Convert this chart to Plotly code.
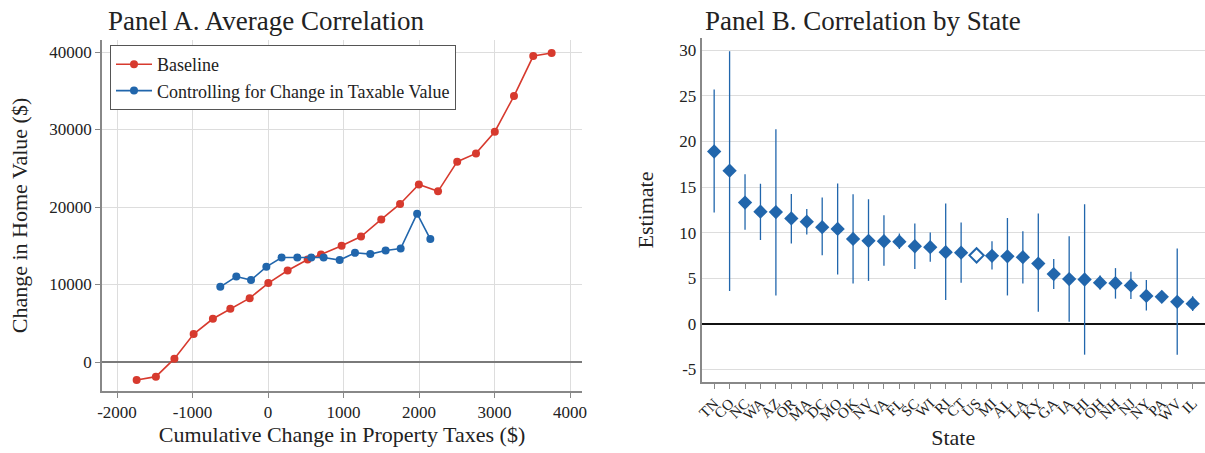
import plotly.graph_objects as go

# Panel A data
base_x = [-1740, -1485, -1240, -985, -730, -499, -243, 4, 260, 525, 702, 975, 1232,
          1500, 1749, 1998, 2252, 2506, 2755, 3004, 3258, 3513, 3757]
base_y = [-2320, -1890, 430, 3600, 5580, 6860, 8240, 10180, 11810, 13230, 13870, 14990, 16190,
          18400, 20390, 22920, 22020, 25850, 26920, 29720, 34320, 39480, 39870]
ctrl_x = [-632, -420, -225, -22, 180, 388, 573, 737, 949, 1152, 1355, 1558, 1757, 1975, 2150]
ctrl_y = [9700, 11030, 10570, 12280, 13480, 13480, 13480, 13480, 13150, 14090, 13920, 14390,
          14650, 19140, 15860]
a_xticks = [-2000, -1000, 0, 1000, 2000, 3000, 4000]
a_yticks = [0, 10000, 20000, 30000, 40000]

# Panel B data
states = ['TN', 'CO', 'NC', 'WA', 'AZ', 'OR', 'MA', 'DC', 'MO', 'OK', 'NV', 'VA', 'FL', 'SC',
          'WI', 'RI', 'CT', 'US', 'MI', 'AL', 'LA', 'KY', 'GA', 'IA', 'HI', 'OH', 'NH', 'NJ',
          'NY', 'PA', 'WV', 'IL']
estimate = [18.9, 16.8, 13.3, 12.3, 12.25, 11.55, 11.2, 10.6, 10.4, 9.3, 9.1, 9.05, 9.0, 8.5,
            8.4, 7.85, 7.8, 7.5, 7.45, 7.4, 7.3, 6.6, 5.45, 4.9, 4.85, 4.5, 4.45, 4.2,
            3.05, 2.95, 2.4, 2.2]
ci_high = [25.7, 29.9, 16.4, 15.35, 21.35, 14.25, 12.6, 13.85, 15.4, 14.2, 13.65, 11.9, 9.9, 11.0,
           10.0, 13.2, 11.1, 7.5, 9.05, 11.6, 10.15, 12.1, 7.1, 9.6, 13.1, 5.3, 6.1, 5.7,
           4.8, 2.95, 8.25, 3.0]
ci_low = [12.2, 3.6, 10.3, 9.2, 3.1, 8.8, 9.8, 7.5, 5.4, 4.4, 4.7, 6.35, 8.2, 6.0,
          6.8, 2.6, 4.5, 7.5, 5.96, 3.1, 4.4, 1.3, 3.8, 0.2, -3.4, 3.75, 2.75, 2.7,
          1.45, 2.95, -3.4, 1.4]
b_yticks = [-5, 0, 5, 10, 15, 20, 25, 30]

RED = '#d73a2e'
BLUE = '#2166ac'
FONT = 'Liberation Serif'
TXT = '#222222'

fig = go.Figure()

fig.add_trace(go.Scatter(
    x=base_x, y=base_y, mode='lines+markers', name='Baseline',
    line=dict(color=RED, width=1.6), marker=dict(color=RED, size=8),
    xaxis='x', yaxis='y'
))
fig.add_trace(go.Scatter(
    x=ctrl_x, y=ctrl_y, mode='lines+markers', name='Controlling for Change in Taxable Value',
    line=dict(color=BLUE, width=1.6), marker=dict(color=BLUE, size=8),
    xaxis='x', yaxis='y'
))

err_plus = [h - e for h, e in zip(ci_high, estimate)]
err_minus = [e - l for e, l in zip(estimate, ci_low)]
symbols = ['diamond-open' if s == 'US' else 'diamond' for s in states]
outline = [2 if s == 'US' else 0 for s in states]

fig.add_trace(go.Scatter(
    x=states, y=estimate, mode='markers', showlegend=False,
    marker=dict(symbol=symbols, color=BLUE, size=11, line=dict(color=BLUE, width=outline)),
    error_y=dict(type='data', symmetric=False, array=err_plus, arrayminus=err_minus,
                 color=BLUE, thickness=1.3, width=0),
    xaxis='x2', yaxis='y2', cliponaxis=False
))

line_style = dict(showline=True, linecolor='#888888', linewidth=1.5, automargin=False)
title_font = dict(family=FONT, size=22, color=TXT)
tick_font = dict(family=FONT, size=17, color=TXT)

fig.update_layout(
    width=1205, height=453,
    margin=dict(l=0, r=0, t=0, b=0),
    paper_bgcolor='white', plot_bgcolor='white',
    font=dict(family=FONT, color=TXT),
    xaxis=dict(
        domain=[102 / 1205, 582 / 1205], anchor='y',
        range=[-2199, 4159], tickvals=a_xticks, ticktext=[str(v) for v in a_xticks],
        showgrid=True, gridcolor='#dddddd', gridwidth=1, zeroline=False,
        ticks='outside', ticklen=5, tickcolor='#888888', tickfont=tick_font,
        title=dict(text='Cumulative Change in Property Taxes ($)', font=title_font, standoff=4),
        **line_style
    ),
    yaxis=dict(
        domain=[62 / 453, 413 / 453], anchor='x',
        range=[-3742, 41550], tickvals=a_yticks, ticktext=[str(v) for v in a_yticks],
        showgrid=True, gridcolor='#dddddd', gridwidth=1,
        zeroline=True, zerolinecolor='#7a7a7a', zerolinewidth=1.5,
        ticks='outside', ticklen=5, tickcolor='#888888', tickfont=tick_font,
        title=dict(text='Change in Home Value ($)', font=title_font, standoff=16),
        **line_style
    ),
    xaxis2=dict(
        domain=[701.5 / 1205, 1.0], anchor='y2',
        range=[-0.82, 31.8], type='category', tickangle=-45,
        tickmode='array', tickvals=states, ticktext=states,
        showgrid=False, zeroline=False,
        ticks='outside', ticklen=5, tickcolor='#888888',
        tickfont=dict(family=FONT, size=15, color=TXT),
        title=dict(text='State', font=title_font, standoff=6),
        **line_style
    ),
    yaxis2=dict(
        domain=[71 / 453, 415 / 453], anchor='x2',
        range=[-6.4, 31.36], tickvals=b_yticks, ticktext=[str(v) for v in b_yticks],
        showgrid=True, gridcolor='#dddddd', gridwidth=1,
        zeroline=True, zerolinecolor='#111111', zerolinewidth=1.5,
        ticks='', tickfont=tick_font,
        title=dict(text='Estimate', font=title_font, standoff=20),
        **line_style
    ),
    legend=dict(
        x=110 / 1205, y=408 / 453, xanchor='left', yanchor='top',
        bgcolor='white', bordercolor='#555555', borderwidth=1,
        font=dict(family=FONT, size=18, color=TXT),
        itemwidth=36, tracegroupgap=0,
    ),
    annotations=[
        dict(text='Panel A. Average Correlation', x=106 / 1205, y=1 - 4 / 453,
             xref='paper', yref='paper', xanchor='left', yanchor='top', showarrow=False,
             font=dict(family=FONT, size=27, color=TXT)),
        dict(text='Panel B. Correlation by State', x=703 / 1205, y=1 - 4 / 453,
             xref='paper', yref='paper', xanchor='left', yanchor='top', showarrow=False,
             font=dict(family=FONT, size=27, color=TXT)),
    ],
)

# body margin would shift the fixed-size figure off the window
fig.write_html("out.html", config={'displayModeBar': False},
               post_script="document.body.style.margin='0';")
